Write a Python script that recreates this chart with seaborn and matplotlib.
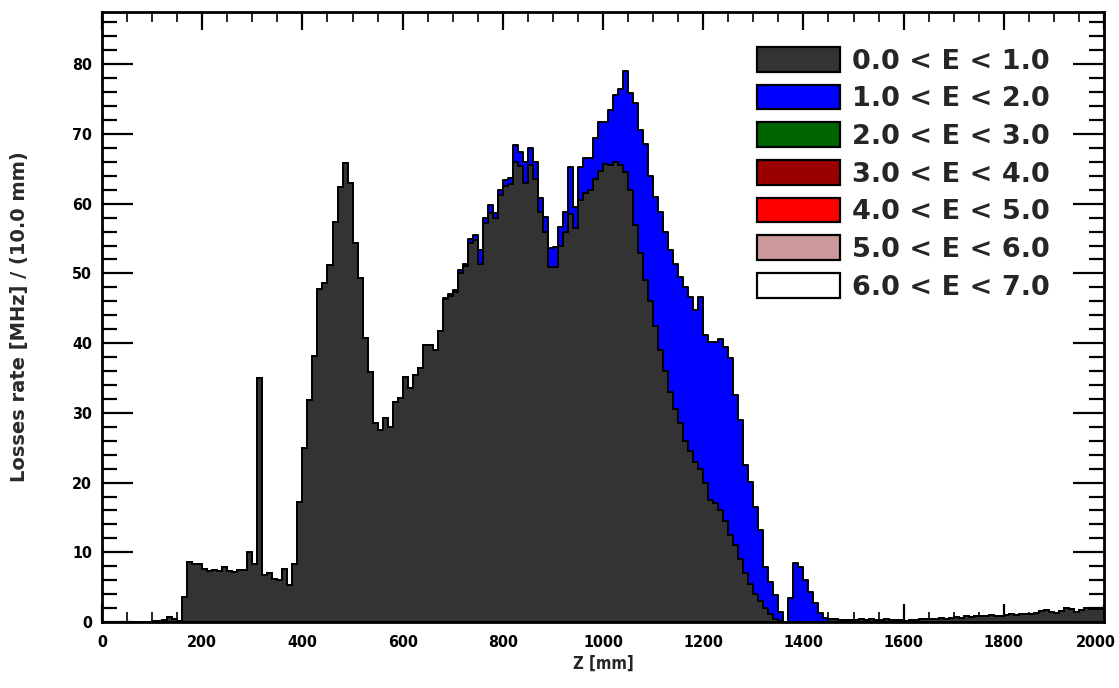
import numpy as np
import pandas as pd
import matplotlib
matplotlib.use("Agg")
import matplotlib.pyplot as plt
import matplotlib.transforms as mtransforms
from matplotlib.patches import Patch
from matplotlib.ticker import MultipleLocator
import seaborn as sns

sns.set_style("ticks")
plt.rcParams["font.family"] = ["DejaVu Sans"]

# ---- data: 10 mm bins from 0 to 2000 mm ----
bin_width = 10
bin_starts = list(range(0, 2000, bin_width))

# 0.0 < E < 1.0 (dark grey)
rate_e0 = [
    0.0, 0.0, 0.0, 0.0, 0.0, 0.0, 0.0, 0.0, 0.0, 0.0,
    0.2, 0.2, 0.3, 0.7, 0.4, 0.2, 3.6, 8.6, 8.3, 8.3,
    7.6, 7.3, 7.4, 7.3, 7.9, 7.3, 7.2, 7.4, 7.5, 10.0,
    8.3, 35.0, 6.7, 7.1, 6.2, 6.0, 7.6, 5.3, 8.3, 17.2,
    24.9, 31.8, 38.1, 47.8, 48.6, 51.2, 57.4, 62.4, 65.9, 62.9,
    54.3, 49.3, 40.7, 35.9, 28.5, 27.5, 29.2, 28.0, 31.6, 32.1,
    35.2, 33.5, 35.4, 36.4, 39.7, 39.7, 39.0, 41.8, 46.3, 46.8,
    47.3, 50.0, 51.0, 54.4, 54.8, 51.3, 57.2, 58.6, 57.9, 61.2,
    62.6, 62.8, 66.0, 65.4, 63.0, 65.5, 63.5, 58.8, 56.0, 50.9,
    50.9, 54.0, 56.0, 58.5, 56.5, 60.5, 61.5, 62.0, 63.5, 64.7,
    65.7, 65.5, 66.0, 65.5, 64.5, 62.0, 57.0, 53.0, 49.0, 46.0,
    42.5, 39.0, 36.0, 33.0, 30.5, 28.5, 26.0, 24.5, 23.0, 22.0,
    20.0, 17.5, 17.0, 16.0, 14.5, 12.5, 11.0, 9.0, 7.0, 5.5,
    4.0, 3.0, 2.0, 1.2, 0.5, 0.2, 0.0, 0.0, 0.0, 0.0,
    0.0, 0.0, 0.0, 0.0, 0.0, 0.5, 0.4, 0.3, 0.3, 0.3,
    0.3, 0.4, 0.3, 0.4, 0.3, 0.3, 0.5, 0.3, 0.3, 0.3,
    0.2, 0.3, 0.3, 0.5, 0.4, 0.5, 0.5, 0.6, 0.5, 0.6,
    0.7, 0.6, 0.8, 0.7, 0.8, 0.9, 0.8, 1.0, 0.9, 0.8,
    1.0, 1.1, 1.0, 1.2, 1.1, 1.2, 1.3, 1.6, 1.7, 1.5,
    1.3, 1.6, 2.0, 1.8, 1.5, 1.7, 2.0, 1.9, 1.8, 1.9,
]

# 1.0 < E < 2.0 (blue)
rate_e1 = [
    0.0, 0.0, 0.0, 0.0, 0.0, 0.0, 0.0, 0.0, 0.0, 0.0,
    0.0, 0.0, 0.0, 0.0, 0.0, 0.0, 0.0, 0.0, 0.0, 0.0,
    0.0, 0.0, 0.0, 0.0, 0.0, 0.0, 0.0, 0.0, 0.0, 0.0,
    0.0, 0.0, 0.0, 0.0, 0.0, 0.0, 0.0, 0.0, 0.0, 0.0,
    0.0, 0.0, 0.0, 0.0, 0.0, 0.0, 0.0, 0.0, 0.0, 0.0,
    0.0, 0.0, 0.0, 0.0, 0.0, 0.0, 0.0, 0.0, 0.0, 0.0,
    0.0, 0.0, 0.0, 0.0, 0.0, 0.0, 0.0, 0.0, 0.2, 0.3,
    0.3, 0.5, 0.4, 0.6, 0.7, 2.0, 0.7, 1.2, 0.7, 0.7,
    0.8, 0.9, 2.4, 2.0, 3.0, 2.5, 2.5, 2.0, 2.1, 2.7,
    2.9, 2.7, 2.8, 6.8, 3.0, 4.8, 5.0, 4.5, 5.9, 7.0,
    6.0, 8.0, 9.6, 11.0, 14.6, 13.9, 17.4, 17.5, 19.6, 18.0,
    18.5, 19.8, 19.9, 20.3, 20.9, 21.0, 22.1, 22.1, 21.7, 24.6,
    21.1, 22.7, 23.2, 24.6, 25.0, 25.3, 21.5, 20.0, 15.5, 14.6,
    12.5, 10.2, 5.9, 4.6, 3.4, 1.3, 0.0, 3.4, 8.4, 7.9,
    6.0, 4.3, 2.7, 1.3, 0.6, 0.0, 0.0, 0.0, 0.0, 0.0,
    0.0, 0.0, 0.0, 0.0, 0.0, 0.0, 0.0, 0.0, 0.0, 0.0,
    0.0, 0.0, 0.0, 0.0, 0.0, 0.0, 0.0, 0.0, 0.0, 0.0,
    0.0, 0.0, 0.0, 0.0, 0.0, 0.0, 0.0, 0.0, 0.0, 0.0,
    0.0, 0.0, 0.0, 0.0, 0.0, 0.0, 0.0, 0.0, 0.0, 0.0,
    0.0, 0.0, 0.0, 0.0, 0.0, 0.0, 0.0, 0.0, 0.0, 0.0,
]

legend_labels = ["0.0 < E < 1.0", "1.0 < E < 2.0", "2.0 < E < 3.0", "3.0 < E < 4.0",
                 "4.0 < E < 5.0", "5.0 < E < 6.0", "6.0 < E < 7.0"]
legend_colors = ["#333333", "#0000ff", "#006400", "#9b0000", "#ff0000", "#cc9a9a", "#ffffff"]

x_label = "Z [mm]"
y_label = "Losses rate [MHz] / (10.0 mm)"

# ---- build long table ----
centers = np.array(bin_starts) + bin_width / 2
df = pd.DataFrame({
    "z": np.concatenate([centers, centers]),
    "rate": np.concatenate([rate_e0, rate_e1]),
    "band": [legend_labels[0]] * len(centers) + [legend_labels[1]] * len(centers),
})
edges = list(range(0, 2000 + bin_width, bin_width))

fig = plt.figure(figsize=(11.19, 6.88), dpi=100)
ax = fig.add_axes([0.0912, 0.0959, 0.8954, 0.8867])

sns.histplot(
    data=df, x="z", weights="rate", hue="band",
    hue_order=[legend_labels[1], legend_labels[0]],
    palette={legend_labels[0]: legend_colors[0], legend_labels[1]: legend_colors[1]},
    bins=edges, multiple="stack", element="step", fill=True, alpha=1.0,
    edgecolor="black", linewidth=1.4, legend=False, ax=ax,
)

ax.set_xlim(0, 2000)
ax.set_ylim(0, 87.5)

ax.xaxis.set_major_locator(MultipleLocator(200))
ax.xaxis.set_minor_locator(MultipleLocator(50))
ax.yaxis.set_major_locator(MultipleLocator(10))
ax.yaxis.set_minor_locator(MultipleLocator(2))

ax.tick_params(axis="both", which="both", direction="in", top=True, right=True, colors="black")
ax.tick_params(axis="x", which="major", length=13, width=1.6, pad=9, labelsize=11.5)
ax.tick_params(axis="x", which="minor", length=7, width=1.2)
ax.tick_params(axis="y", which="major", length=22, width=1.6, pad=7, labelsize=11.5)
ax.tick_params(axis="y", which="minor", length=11, width=1.6)
fig.canvas.draw()
for lab in ax.get_xticklabels() + ax.get_yticklabels():
    lab.set_fontweight("bold")
    lab.set_fontstretch("condensed")
# keep the right-most x label (at 2000) inside the figure
for tick in ax.xaxis.get_major_ticks():
    if abs(tick.get_loc() - 2000) < 1e-6:
        tick.label1.set_horizontalalignment("right")
        tick.label1.set_transform(tick.label1.get_transform() +
                                  mtransforms.ScaledTranslation(12 / 100, 0, fig.dpi_scale_trans))

for sp in ax.spines.values():
    sp.set_linewidth(2.0)
    sp.set_color("black")

ax.set_xlabel(x_label, fontsize=12, fontweight="bold", labelpad=4, fontstretch="condensed")
ax.set_ylabel(y_label, fontsize=14, fontweight="bold", labelpad=31, color="#2a2a2a")

handles = [Patch(facecolor=c, edgecolor="black", linewidth=1.6) for c in legend_colors]
ax.legend(handles, legend_labels, loc="upper left", bbox_to_anchor=(0.6537, 0.9426),
          frameon=False, prop={"weight": "bold", "size": 19.5},
          handlelength=3.06, handleheight=1.03, handletextpad=0.44, labelspacing=0.37,
          borderaxespad=0, borderpad=0)

fig.savefig("out.png", dpi=100)
